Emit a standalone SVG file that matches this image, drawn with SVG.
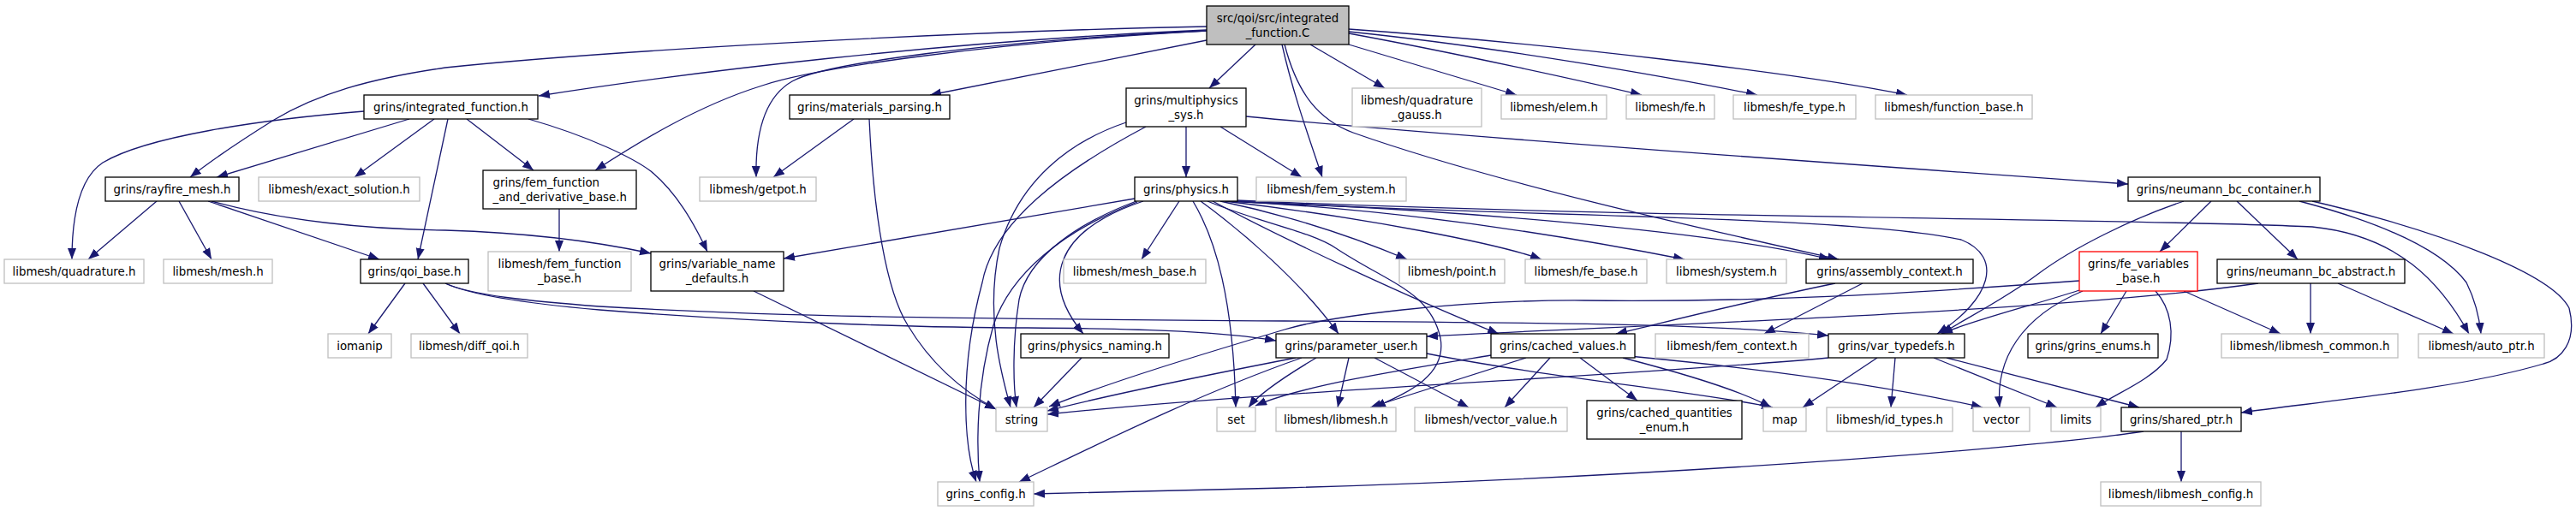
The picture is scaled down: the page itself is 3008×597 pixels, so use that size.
<svg xmlns="http://www.w3.org/2000/svg" width="3008" height="597" viewBox="0 0 3008 597">
<style>
rect{fill:#fff;stroke:#000;stroke-width:1.3}
.g rect{stroke:#bfbfbf}
.r rect{stroke:#ff0000}
.root rect{fill:#bfbfbf}
text{font-family:"DejaVu Sans",sans-serif;font-size:13.33px;text-anchor:middle;fill:#000}
#edges path{fill:none;stroke:#191970;stroke-width:1.3;marker-end:url(#a)}
</style>
<defs>
<marker id="a" markerUnits="userSpaceOnUse" markerWidth="14" markerHeight="11" refX="13" refY="5" orient="auto"><path d="M0,0L13,5L0,10z" fill="#191970"/></marker>
</defs>
<rect x="0" y="0" width="3008" height="597" style="fill:#fff;stroke:none"/>
<g id="edges">
<path d="M1409,35 C1100,48 800,85 629,112"/>
<path d="M1409,31 C1100,37 700,60 520,79 C430,92 370,110 320,140 C280,165 250,185 222,207"/>
<path d="M1409,36 C1150,50 950,80 890,100 C810,125 740,170 695,199"/>
<path d="M1409,36 C1150,48 960,75 925,95 C890,115 882,160 883,207"/>
<path d="M1409,47 L1086,111"/>
<path d="M1466,52 L1412,103"/>
<path d="M1497,52 C1510,110 1530,165 1544,207"/>
<path d="M1500,52 C1515,110 1540,140 1580,155 C1750,215 2000,270 2147,303"/>
<path d="M1530,52 L1617,103"/>
<path d="M1575,52 L1771,111"/>
<path d="M1575,39 C1700,62 1850,95 1917,111"/>
<path d="M1575,37 C1750,55 1950,90 2052,111"/>
<path d="M1575,34 C1800,50 2100,85 2227,111"/>
<path d="M425,130 C300,140 170,160 120,190 C90,210 84,260 84,303"/>
<path d="M478,139 L253,207"/>
<path d="M507,139 L414,207"/>
<path d="M523,139 L488,303"/>
<path d="M545,139 L623,199"/>
<path d="M617,139 C690,160 740,185 760,200 C790,225 810,260 826,294"/>
<path d="M183,235 L103,303"/>
<path d="M209,235 L247,303"/>
<path d="M243,235 L443,303"/>
<path d="M247,235 C330,258 430,268 520,269 C620,272 700,283 760,296"/>
<path d="M653,244 L653,294"/>
<path d="M997,139 L903,207"/>
<path d="M1015,139 C1020,250 1035,340 1060,380 C1090,430 1130,460 1163,478"/>
<path d="M1385,148 L1385,207"/>
<path d="M1425,148 L1520,207"/>
<path d="M1455,136 C1700,160 2200,195 2485,215"/>
<path d="M1315,143 C1250,165 1190,210 1167,290 C1150,370 1170,440 1180,476"/>
<path d="M1338,148 C1240,200 1160,260 1147,330 C1120,430 1125,520 1140,563"/>
<path d="M1325,232 L915,302"/>
<path d="M1327,235 C1260,260 1200,300 1190,350 C1182,400 1183,450 1187,476"/>
<path d="M1328,236 C1240,270 1180,320 1160,380 C1140,450 1140,520 1144,563"/>
<path d="M1335,235 C1230,270 1215,330 1265,390"/>
<path d="M1377,235 L1333,303"/>
<path d="M1393,235 C1420,280 1440,350 1443,476"/>
<path d="M1410,235 C1470,260 1530,270 1560,290 C1620,330 1670,340 1682,395 C1690,440 1640,460 1605,476"/>
<path d="M1402,235 C1450,270 1520,330 1563,390"/>
<path d="M1416,235 C1500,280 1650,350 1750,390"/>
<path d="M1425,235 C1520,255 1600,285 1643,303"/>
<path d="M1430,235 C1600,255 1750,285 1800,303"/>
<path d="M1434,235 C1650,245 1850,280 1967,303"/>
<path d="M1437,235 C1700,245 2000,270 2137,303"/>
<path d="M1440,235 C1700,252 2150,250 2290,280 C2340,300 2325,350 2262,390"/>
<path d="M1443,234 C1900,255 2500,255 2700,265 C2800,275 2850,330 2883,390"/>
<path d="M1513,418 C1400,440 1300,460 1223,480"/>
<path d="M1520,418 C1400,460 1280,520 1190,563"/>
<path d="M1537,418 C1500,440 1470,460 1458,476"/>
<path d="M1575,418 L1562,476"/>
<path d="M1605,418 L1715,476"/>
<path d="M1666,413 C1800,440 2000,460 2070,476"/>
<path d="M1782,418 L1600,476"/>
<path d="M1810,418 L1757,476"/>
<path d="M1845,418 L1912,468"/>
<path d="M1895,418 C1980,440 2040,460 2068,476"/>
<path d="M1902,416 C2050,430 2200,450 2315,476"/>
<path d="M1741,415 C1650,430 1520,450 1466,474"/>
<path d="M2143,331 C2050,350 1950,375 1887,390"/>
<path d="M2175,331 L2060,390"/>
<path d="M2135,418 C1900,440 1500,455 1223,484"/>
<path d="M2192,418 L2105,476"/>
<path d="M2213,418 L2208,476"/>
<path d="M2258,418 L2402,476"/>
<path d="M2273,418 L2498,476"/>
<path d="M473,331 L430,390"/>
<path d="M494,331 L537,390"/>
<path d="M520,331 C550,345 620,355 700,362 C900,378 1100,383 1200,383 C1350,384 1430,388 1490,398"/>
<path d="M520,331 C550,345 620,352 700,358 C900,370 1100,372 1500,375 C1800,377 2000,378 2135,392"/>
<path d="M880,340 L1163,478"/>
<path d="M1263,418 L1207,476"/>
<path d="M2428,328 C2200,345 2050,353 1850,351 C1700,350 1550,370 1500,385 C1400,415 1300,445 1225,475"/>
<path d="M2428,339 C2380,355 2300,375 2267,390"/>
<path d="M2432,340 C2360,370 2330,420 2335,476"/>
<path d="M2483,340 L2453,390"/>
<path d="M2517,340 C2535,360 2540,390 2530,420 C2510,445 2470,460 2447,476"/>
<path d="M2550,340 L2663,390"/>
<path d="M2550,235 C2490,255 2420,290 2380,320 C2340,350 2290,375 2267,390"/>
<path d="M2582,235 L2522,294"/>
<path d="M2612,235 L2683,303"/>
<path d="M2685,235 C2780,260 2850,290 2880,330 C2890,350 2895,370 2897,390"/>
<path d="M2700,235 C2850,270 2980,320 3000,360 C3010,400 2990,420 2970,425 C2870,455 2700,470 2617,482"/>
<path d="M2637,331 C2400,365 1900,380 1666,393"/>
<path d="M2698,331 L2698,390"/>
<path d="M2730,331 L2865,390"/>
<path d="M2503,504 C2400,520 2000,555 1500,570 C1350,574 1250,576 1207,577"/>
<path d="M2547,504 L2547,563"/>
</g>
<g id="n_root" class="root"><rect x="1409" y="7" width="166" height="45"/><text x="1492" y="25.5">src/qoi/src/integrated</text><text x="1492" y="42.5">_function.C</text></g>
<g id="n_intf"><rect x="425" y="111" width="203" height="28"/><text x="526.5" y="129.7">grins/integrated_function.h</text></g>
<g id="n_matp"><rect x="922" y="111" width="187" height="28"/><text x="1015.5" y="129.7">grins/materials_parsing.h</text></g>
<g id="n_mps"><rect x="1315" y="103" width="140" height="45"/><text x="1385" y="121.5">grins/multiphysics</text><text x="1385" y="138.5">_sys.h</text></g>
<g id="n_qg" class="g"><rect x="1579" y="103" width="151" height="45"/><text x="1654.5" y="121.5">libmesh/quadrature</text><text x="1654.5" y="138.5">_gauss.h</text></g>
<g id="n_elem" class="g"><rect x="1753" y="111" width="123" height="28"/><text x="1814.5" y="129.7">libmesh/elem.h</text></g>
<g id="n_fe" class="g"><rect x="1899" y="111" width="103" height="28"/><text x="1950.5" y="129.7">libmesh/fe.h</text></g>
<g id="n_fet" class="g"><rect x="2024" y="111" width="143" height="28"/><text x="2095.5" y="129.7">libmesh/fe_type.h</text></g>
<g id="n_fb" class="g"><rect x="2190" y="111" width="183" height="28"/><text x="2281.5" y="129.7">libmesh/function_base.h</text></g>
<g id="n_ray"><rect x="123" y="207" width="156" height="28"/><text x="201" y="225.7">grins/rayfire_mesh.h</text></g>
<g id="n_exs" class="g"><rect x="302" y="207" width="188" height="28"/><text x="396" y="225.7">libmesh/exact_solution.h</text></g>
<g id="n_ffd"><rect x="564" y="199" width="179" height="45"/><text x="575.5" y="217.5" style="text-anchor:start">grins/fem_function</text><text x="575.5" y="234.5" style="text-anchor:start">_and_derivative_base.h</text></g>
<g id="n_getpot" class="g"><rect x="817" y="207" width="136" height="28"/><text x="885" y="225.7">libmesh/getpot.h</text></g>
<g id="n_phys"><rect x="1325" y="207" width="120" height="28"/><text x="1385" y="225.7">grins/physics.h</text></g>
<g id="n_femsys" class="g"><rect x="1467" y="207" width="175" height="28"/><text x="1554.5" y="225.7">libmesh/fem_system.h</text></g>
<g id="n_nbc"><rect x="2485" y="207" width="224" height="28"/><text x="2597" y="225.7">grins/neumann_bc_container.h</text></g>
<g id="n_quad" class="g"><rect x="5" y="303" width="163" height="28"/><text x="86.5" y="321.7">libmesh/quadrature.h</text></g>
<g id="n_mesh" class="g"><rect x="191" y="303" width="127" height="28"/><text x="254.5" y="321.7">libmesh/mesh.h</text></g>
<g id="n_qoi"><rect x="421" y="303" width="126" height="28"/><text x="484" y="321.7">grins/qoi_base.h</text></g>
<g id="n_ffb" class="g"><rect x="570" y="294" width="167" height="46"/><text x="653.5" y="313">libmesh/fem_function</text><text x="653.5" y="330">_base.h</text></g>
<g id="n_vnd"><rect x="760" y="294" width="155" height="46"/><text x="837.5" y="313">grins/variable_name</text><text x="837.5" y="330">_defaults.h</text></g>
<g id="n_mb" class="g"><rect x="1242" y="303" width="166" height="28"/><text x="1325" y="321.7">libmesh/mesh_base.h</text></g>
<g id="n_pt" class="g"><rect x="1634" y="303" width="123" height="28"/><text x="1695.5" y="321.7">libmesh/point.h</text></g>
<g id="n_feb" class="g"><rect x="1781" y="303" width="142" height="28"/><text x="1852" y="321.7">libmesh/fe_base.h</text></g>
<g id="n_sys" class="g"><rect x="1946" y="303" width="140" height="28"/><text x="2016" y="321.7">libmesh/system.h</text></g>
<g id="n_ac"><rect x="2109" y="303" width="195" height="28"/><text x="2206.5" y="321.7">grins/assembly_context.h</text></g>
<g id="n_fev" class="r"><rect x="2428" y="294" width="138" height="46"/><text x="2497" y="313">grins/fe_variables</text><text x="2497" y="330">_base.h</text></g>
<g id="n_nba"><rect x="2589" y="303" width="219" height="28"/><text x="2698.5" y="321.7">grins/neumann_bc_abstract.h</text></g>
<g id="n_iom" class="g"><rect x="383" y="390" width="74" height="28"/><text x="420" y="408.7">iomanip</text></g>
<g id="n_dq" class="g"><rect x="480" y="390" width="136" height="28"/><text x="548" y="408.7">libmesh/diff_qoi.h</text></g>
<g id="n_pn"><rect x="1192" y="390" width="173" height="28"/><text x="1278.5" y="408.7">grins/physics_naming.h</text></g>
<g id="n_pu"><rect x="1490" y="390" width="176" height="28"/><text x="1578" y="408.7">grins/parameter_user.h</text></g>
<g id="n_cv"><rect x="1741" y="390" width="168" height="28"/><text x="1825" y="408.7">grins/cached_values.h</text></g>
<g id="n_fc" class="g"><rect x="1933" y="390" width="179" height="28"/><text x="2022.5" y="408.7">libmesh/fem_context.h</text></g>
<g id="n_vt"><rect x="2135" y="390" width="159" height="28"/><text x="2214.5" y="408.7">grins/var_typedefs.h</text></g>
<g id="n_ge"><rect x="2368" y="390" width="152" height="28"/><text x="2444" y="408.7">grins/grins_enums.h</text></g>
<g id="n_lc" class="g"><rect x="2594" y="390" width="206" height="28"/><text x="2697" y="408.7">libmesh/libmesh_common.h</text></g>
<g id="n_ap" class="g"><rect x="2824" y="390" width="147" height="28"/><text x="2897.5" y="408.7">libmesh/auto_ptr.h</text></g>
<g id="n_str" class="g"><rect x="1163" y="476" width="60" height="28"/><text x="1193" y="494.7">string</text></g>
<g id="n_set" class="g"><rect x="1421" y="476" width="45" height="28"/><text x="1443.5" y="494.7">set</text></g>
<g id="n_lm" class="g"><rect x="1490" y="476" width="140" height="28"/><text x="1560" y="494.7">libmesh/libmesh.h</text></g>
<g id="n_vv" class="g"><rect x="1652" y="476" width="178" height="28"/><text x="1741" y="494.7">libmesh/vector_value.h</text></g>
<g id="n_cqe"><rect x="1853" y="468" width="181" height="45"/><text x="1943.5" y="486.5">grins/cached_quantities</text><text x="1943.5" y="503.5">_enum.h</text></g>
<g id="n_map" class="g"><rect x="2059" y="476" width="50" height="28"/><text x="2084" y="494.7">map</text></g>
<g id="n_idt" class="g"><rect x="2133" y="476" width="147" height="28"/><text x="2206.5" y="494.7">libmesh/id_types.h</text></g>
<g id="n_vec" class="g"><rect x="2304" y="476" width="66" height="28"/><text x="2337" y="494.7">vector</text></g>
<g id="n_lim" class="g"><rect x="2395" y="476" width="58" height="28"/><text x="2424" y="494.7">limits</text></g>
<g id="n_sp"><rect x="2477" y="476" width="140" height="28"/><text x="2547" y="494.7">grins/shared_ptr.h</text></g>
<g id="n_gc" class="g"><rect x="1095" y="563" width="112" height="28"/><text x="1151" y="581.7">grins_config.h</text></g>
<g id="n_lmc" class="g"><rect x="2453" y="563" width="187" height="28"/><text x="2546.5" y="581.7">libmesh/libmesh_config.h</text></g>
</svg>
